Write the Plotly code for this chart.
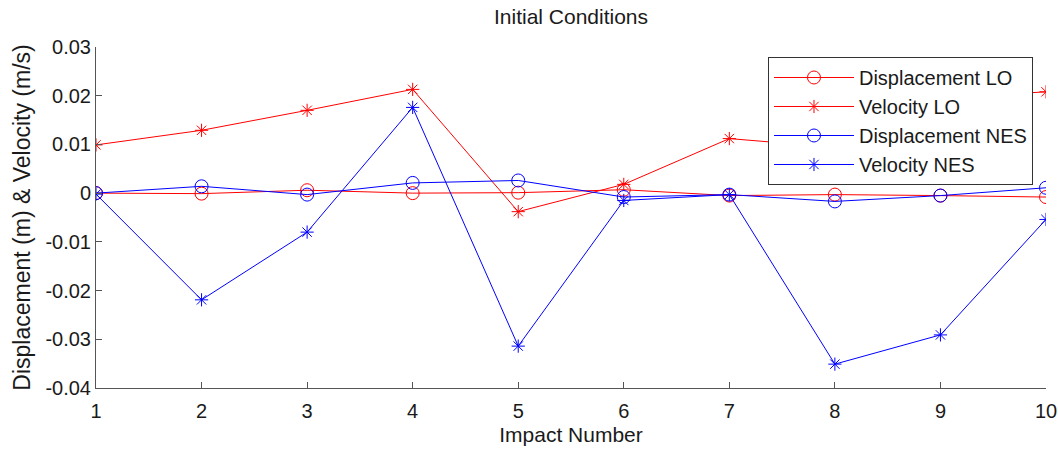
import plotly.graph_objects as go

impact = [1, 2, 3, 4, 5, 6, 7, 8, 9, 10]
disp_lo = [0.0, -0.0001, 0.0006, 0.0, 0.0001, 0.0007, -0.0005, -0.0003, -0.0005, -0.0008]
vel_lo = [0.0099, 0.0129, 0.0170, 0.0213, -0.0038, 0.0018, 0.0112, 0.0094, 0.0195, 0.0208]
disp_nes = [0.0, 0.0014, -0.0003, 0.0021, 0.0026, -0.0008, -0.0003, -0.0017, -0.0005, 0.0011]
vel_nes = [-0.0002, -0.0219, -0.0080, 0.0176, -0.0314, -0.0015, -0.0003, -0.0351, -0.0291, -0.0054]

y_tickvals = [0.03, 0.02, 0.01, 0.0, -0.01, -0.02, -0.03, -0.04]
y_ticktext = ["0.03", "0.02", "0.01", "0", "-0.01", "-0.02", "-0.03", "-0.04"]

RED = "#ff0000"
BLUE = "#0000ff"

series = [
    ("Displacement LO", disp_lo, RED, "circle-open", 13),
    ("Velocity LO", vel_lo, RED, "asterisk-open", 11),
    ("Displacement NES", disp_nes, BLUE, "circle-open", 13),
    ("Velocity NES", vel_nes, BLUE, "asterisk-open", 11),
]

fig = go.Figure()
for name, vals, col, sym, sz in series:
    fig.add_trace(go.Scatter(
        x=impact, y=vals, name=name, mode="lines+markers",
        line=dict(color=col, width=1),
        marker=dict(symbol=sym, size=sz, color=col, line=dict(color=col, width=1)),
    ))

font_family = "Liberation Sans, Arial, sans-serif"

fig.update_layout(
    width=1058, height=449,
    paper_bgcolor="white", plot_bgcolor="white",
    margin=dict(l=96, r=12, t=47, b=61),
    font=dict(family=font_family, size=20, color="#1a1a1a"),
    title=dict(text="Initial Conditions", x=0.5, xref="paper", xanchor="center",
               y=1 - 17 / 449, yref="container", yanchor="middle",
               font=dict(size=21, color="#1a1a1a")),
    showlegend=True,
    legend=dict(
        x=0.9863, y=0.9707, xanchor="right", yanchor="top",
        bgcolor="white", bordercolor="#333333", borderwidth=1,
        font=dict(size=20, color="#1a1a1a"),
        itemwidth=80, traceorder="normal",
    ),
    xaxis=dict(
        range=[1, 10], tickvals=impact, ticktext=[str(v) for v in impact],
        showgrid=False, zeroline=False, showline=True, linecolor="#555555", linewidth=1,
        ticks="inside", ticklen=6, tickcolor="#555555", mirror=False,
        automargin=False, ticklabelstandoff=5,
        title=dict(text="Impact Number", font=dict(size=21), standoff=6),
        tickfont=dict(size=20),
    ),
    yaxis=dict(
        range=[-0.04, 0.03], tickvals=y_tickvals, ticktext=y_ticktext,
        showgrid=False, zeroline=False, showline=True, linecolor="#555555", linewidth=1,
        ticks="inside", ticklen=6, tickcolor="#555555", mirror=False,
        automargin=False, ticklabelstandoff=0,
        title=dict(text="Displacement (m) & Velocity (m/s)", font=dict(size=23), standoff=8),
        tickfont=dict(size=20),
    ),
)

fig.write_html(
    "out.html",
    config={"displayModeBar": False},
    post_script="document.body.style.margin='0';document.body.style.padding='0';",
)
